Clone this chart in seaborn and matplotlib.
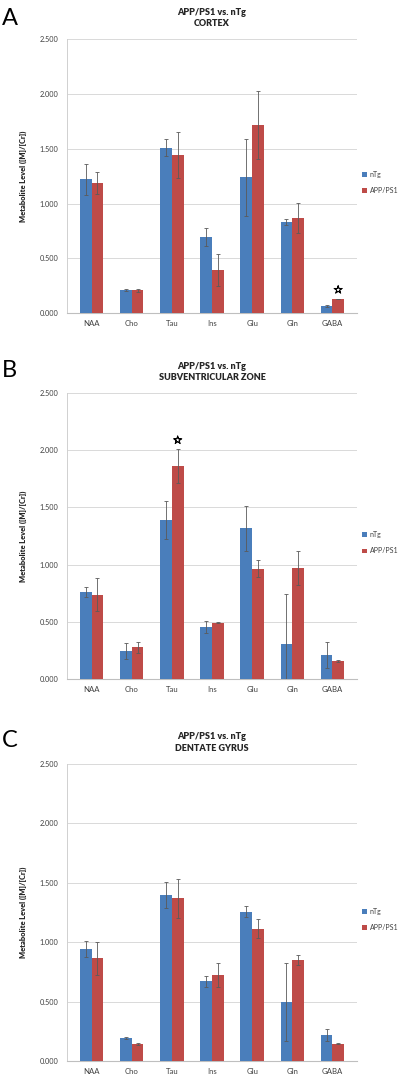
import numpy as np
import pandas as pd
import matplotlib
matplotlib.use("Agg")
import matplotlib.pyplot as plt
import matplotlib.patheffects as pe
from matplotlib.ticker import FixedLocator, FormatStrFormatter
import seaborn as sns

# ---------------- data ----------------
categories = ["NAA", "Cho", "Tau", "Ins", "Glu", "Gln", "GABA"]
groups = ["nTg", "APP/PS1"]

cortex_ntg = [1.220, 0.210, 1.510, 0.693, 1.240, 0.835, 0.064]
cortex_ntg_err = [0.140, 0.010, 0.080, 0.082, 0.350, 0.028, 0.008]
cortex_app = [1.185, 0.210, 1.446, 0.398, 1.713, 0.869, 0.134]
cortex_app_err = [0.100, 0.012, 0.210, 0.146, 0.310, 0.136, 0.000]

svz_ntg = [0.763, 0.245, 1.387, 0.455, 1.317, 0.303, 0.210]
svz_ntg_err = [0.044, 0.073, 0.166, 0.052, 0.198, 0.437, 0.110]
svz_app = [0.737, 0.277, 1.862, 0.492, 0.964, 0.973, 0.157]
svz_app_err = [0.143, 0.049, 0.146, 0.006, 0.073, 0.149, 0.006]

dg_ntg = [0.942, 0.190, 1.396, 0.670, 1.256, 0.496, 0.219]
dg_ntg_err = [0.070, 0.009, 0.109, 0.047, 0.047, 0.325, 0.050]
dg_app = [0.863, 0.143, 1.368, 0.723, 1.113, 0.849, 0.146]
dg_app_err = [0.140, 0.011, 0.162, 0.104, 0.081, 0.042, 0.003]

panel_letters = ["A", "B", "C"]
panel_regions = ["CORTEX", "SUBVENTRICULAR ZONE", "DENTATE GYRUS"]
title_main = "APP/PS1 vs. nTg"
y_label = "Metabolite Level ([M]/[Cr])"
y_ticks = [0.0, 0.5, 1.0, 1.5, 2.0, 2.5]
# significance stars: (category, group) per panel
stars = [[("GABA", "APP/PS1")], [("Tau", "APP/PS1")], []]

panels = [
    (cortex_ntg, cortex_ntg_err, cortex_app, cortex_app_err),
    (svz_ntg, svz_ntg_err, svz_app, svz_app_err),
    (dg_ntg, dg_ntg_err, dg_app, dg_app_err),
]

# ---------------- style ----------------
sns.set_style("white")
plt.rcParams["font.family"] = ["Lato", "DejaVu Sans"]
BLUE = "#4A7EBB"
RED = "#BE4B48"
palette = {"nTg": BLUE, "APP/PS1": RED}

fig = plt.figure(figsize=(4.0, 10.79), dpi=100)

rects = [
    [0.167, 0.7097, 0.726, 0.2542],
    [0.167, 0.3707, 0.726, 0.2651],
    [0.167, 0.0167, 0.726, 0.2755],
]
letter_pos = [(0.024, 0.983), (0.024, 0.657), (0.024, 0.314)]

for i, (ntg, ntg_e, app, app_e) in enumerate(panels):
    ax = fig.add_axes(rects[i])
    df = pd.DataFrame({
        "metabolite": categories * 2,
        "group": [groups[0]] * len(categories) + [groups[1]] * len(categories),
        "value": list(ntg) + list(app),
        "err": list(ntg_e) + list(app_e),
    })
    sns.barplot(data=df, x="metabolite", y="value", hue="group",
                order=categories, hue_order=groups, palette=palette,
                errorbar=None, width=0.58, gap=0, saturation=1,
                edgecolor="none", linewidth=0, ax=ax, legend=True, zorder=3)

    bar_info = {}
    for container, g in zip(ax.containers, groups):
        sub = df[df["group"] == g].set_index("metabolite").loc[categories]
        xs = [p.get_x() + p.get_width() / 2 for p in container.patches]
        ys = [p.get_height() for p in container.patches]
        ax.errorbar(xs, ys, yerr=sub["err"].values, fmt="none",
                    ecolor="#5a5a5a", elinewidth=0.6, capsize=1.2,
                    capthick=0.6, zorder=4)
        for c, x, y, e in zip(categories, xs, ys, sub["err"].values):
            bar_info[(c, g)] = (x, y, e)

    for (c, g) in stars[i]:
        x, y, e = bar_info[(c, g)]
        ax.text(x, y + e + 0.075, "\u2606", ha="center", va="center",
                fontsize=8, color="black", family=["DejaVu Sans"], zorder=5,
                path_effects=[pe.withStroke(linewidth=0.55, foreground="black")])

    ax.set_ylim(0, 2.5)
    ax.yaxis.set_major_locator(FixedLocator(y_ticks))
    ax.yaxis.set_major_formatter(FormatStrFormatter("%.3f"))
    ax.grid(axis="y", color="#d9d9d9", linewidth=0.7, zorder=0)
    ax.set_axisbelow(True)
    ax.set_xlabel("")
    ax.set_ylabel(y_label, fontsize=5.4, fontweight="heavy", labelpad=9)
    ax.tick_params(axis="y", length=0, labelsize=5.3, labelcolor="#404040", pad=6)
    ax.tick_params(axis="x", length=0, labelsize=5.6, labelcolor="#404040", pad=5)
    ax.xaxis.set_minor_locator(FixedLocator(np.arange(-0.5, len(categories), 1.0)))
    ax.tick_params(axis="x", which="minor", length=2.5, width=0.6, color="#bfbfbf")
    for s in ["top", "right"]:
        ax.spines[s].set_visible(False)
    ax.spines["left"].set_color("#d0d0d0")
    ax.spines["left"].set_linewidth(0.7)
    ax.spines["bottom"].set_color("#bfbfbf")
    ax.spines["bottom"].set_linewidth(0.8)

    ax.set_title(f"{title_main}\n{panel_regions[i]}", fontsize=6.5,
                 fontweight="heavy", pad=9, linespacing=1.4)

    leg = ax.legend(loc="center left", bbox_to_anchor=(1.0, 0.476),
                    frameon=False, fontsize=5.0, handlelength=0.7,
                    handleheight=0.7, handletextpad=0.35, labelspacing=1.3,
                    borderaxespad=0.75, borderpad=0)
    for t in leg.get_texts():
        t.set_color("#404040")

    fig.text(letter_pos[i][0], letter_pos[i][1], panel_letters[i],
             fontsize=17, ha="center", va="center", color="black")

fig.savefig("out.png", dpi=100)
